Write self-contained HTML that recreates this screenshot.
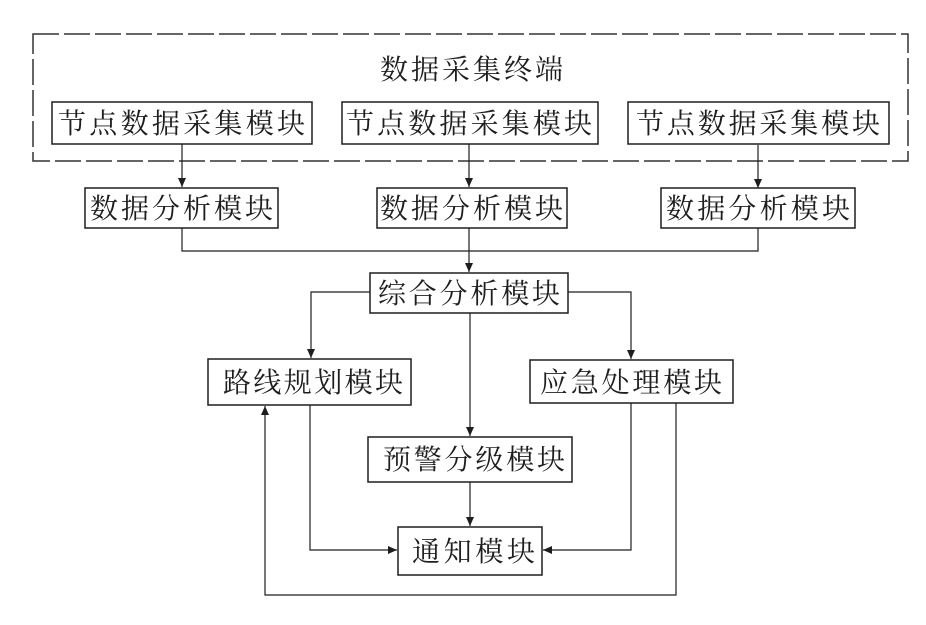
<!DOCTYPE html>
<html><head><meta charset="utf-8"><style>
html,body{margin:0;padding:0;background:#fff;}
svg{display:block;}
text{font-family:"Noto Serif CJK SC","Liberation Serif","Noto Sans CJK SC",serif;font-size:28px;fill:#1e1e1e;}
</style></head><body>
<svg width="926" height="625" viewBox="0 0 926 625" xmlns="http://www.w3.org/2000/svg">
<defs>
<marker id="a" markerWidth="10" markerHeight="10" refX="9" refY="5" orient="auto" markerUnits="userSpaceOnUse">
<path d="M0,1 L9,5 L0,9 Z" fill="#1e1e1e"/>
</marker>
</defs>
<!-- outer dashed box -->
<rect x="33" y="34" width="875" height="127" fill="none" stroke="#333" stroke-width="1.5" stroke-dasharray="26 5"/>
<text x="380" y="79" textLength="183" lengthAdjust="spacing">数据采集终端</text>

<g fill="none" stroke="#1e1e1e" stroke-width="1.5">
<rect x="52" y="102" width="260" height="42"/>
<rect x="342" y="102" width="256" height="42"/>
<rect x="628" y="102" width="261" height="42"/>
<rect x="85" y="188" width="193" height="40"/>
<rect x="377" y="188" width="190" height="40"/>
<rect x="661" y="188" width="194" height="40"/>
<rect x="370" y="273" width="198" height="40"/>
<rect x="208" y="359" width="203" height="46"/>
<rect x="530" y="360" width="203" height="43"/>
<rect x="368" y="437" width="204" height="45"/>
<rect x="398" y="527" width="144" height="48"/>
</g>

<g fill="none" stroke="#1e1e1e" stroke-width="1.2">
<line x1="182" y1="144" x2="182" y2="187" marker-end="url(#a)"/>
<line x1="469" y1="144" x2="469" y2="187" marker-end="url(#a)"/>
<line x1="758" y1="145" x2="758" y2="188" marker-end="url(#a)"/>
<polyline points="182,228 182,251 758,251 758,228"/>
<line x1="469" y1="228" x2="469" y2="272" marker-end="url(#a)"/>
<polyline points="370,292 311,292 311,358" marker-end="url(#a)"/>
<polyline points="568,292 631,292 631,359" marker-end="url(#a)"/>
<line x1="470" y1="313" x2="470" y2="436" marker-end="url(#a)"/>
<line x1="470" y1="482" x2="470" y2="526" marker-end="url(#a)"/>
<polyline points="310,405 310,550 397,550" marker-end="url(#a)"/>
<polyline points="631,403 631,550 543,550" marker-end="url(#a)"/>
<polyline points="676,403 676,595 265,595 265,406" marker-end="url(#a)"/>
</g>

<text x="58" y="133" textLength="247" lengthAdjust="spacing">节点数据采集模块</text>
<text x="346" y="133" textLength="246" lengthAdjust="spacing">节点数据采集模块</text>
<text x="636" y="133" textLength="244" lengthAdjust="spacing">节点数据采集模块</text>
<text x="90" y="218" textLength="183" lengthAdjust="spacing">数据分析模块</text>
<text x="380" y="218" textLength="183" lengthAdjust="spacing">数据分析模块</text>
<text x="666" y="218" textLength="184" lengthAdjust="spacing">数据分析模块</text>
<text x="378" y="303" textLength="182" lengthAdjust="spacing">综合分析模块</text>
<text x="223" y="392" textLength="180" lengthAdjust="spacing">路线规划模块</text>
<text x="540" y="392" textLength="182" lengthAdjust="spacing">应急处理模块</text>
<text x="383" y="469" textLength="182" lengthAdjust="spacing">预警分级模块</text>
<text x="412" y="561" textLength="123" lengthAdjust="spacing">通知模块</text>
</svg>
</body></html>
